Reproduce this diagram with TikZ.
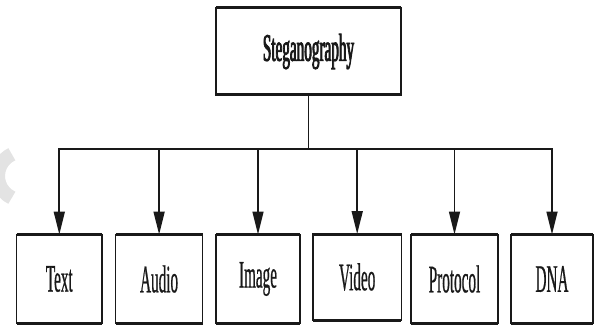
\documentclass[tikz,border=0pt]{standalone}
\usepackage{fontspec}
\setmainfont{Liberation Serif}
\newfontfamily\condfont[FakeStretch=0.39,FakeBold=0.5]{Liberation Serif}
\newfontfamily\condbold[FakeStretch=0.39,FakeBold=2]{Liberation Serif}
\usetikzlibrary{arrows.meta}
\definecolor{ink}{RGB}{25,25,25}
\tikzset{
  box/.style={draw=ink, line width=1.6pt, inner sep=0pt, outer sep=0pt,
    font=\condfont\fontsize{39}{40}\selectfont, text=ink},
  conn/.style={draw=ink, line width=1.7pt},
  arr/.style={conn, -{Triangle[length=23pt,width=11pt]}},
  edge/.style={draw=ink, line width=3pt}
}
\begin{document}
\begin{tikzpicture}[x=1pt,y=-1pt]
\useasboundingbox (0,0) rectangle (594,326);
% faint watermark
\draw[line width=14pt, color=gray!22] (22,176) ++(115:24) arc[start angle=115, end angle=245, radius=24];
% top box
\node[box, minimum width=185pt, minimum height=87pt, font=\condbold\fontsize{39}{40}\selectfont] (steg) at (308.5,51.5) {Steganography};
% bottom boxes
\node[box, minimum width=85.5pt, minimum height=89pt] (text) at (59.3,279) {Text};
\node[box, minimum width=87pt, minimum height=89pt] (audio) at (159.1,279) {Audio};
\node[box, minimum width=84pt, minimum height=89pt] (image) at (258,279) {Image};
\node[box, minimum width=88.5pt, minimum height=86pt] (video) at (357.2,277) {Video};
\node[box, minimum width=87pt, minimum height=89pt] (protocol) at (454.5,279) {Protocol};
\node[box, minimum width=82pt, minimum height=89pt] (dna) at (552,279) {DNA};
% thicker top and bottom edges
\foreach \n in {steg,text,audio,image,video,protocol,dna}{
  \draw[edge] (\n.north west) -- (\n.north east);
  \draw[edge] (\n.south west) -- (\n.south east);
}
% connectors
\coordinate (bus) at (0,149);
\draw[conn] (steg.south) -- (steg.south |- bus);
\draw[conn] ([xshift=-0.85pt]text.north |- bus) -- ([xshift=0.85pt]dna.north |- bus);
\foreach \n in {text,audio,image,video,protocol,dna}{
  \draw[arr] (\n.north |- bus) -- (\n.north);
}
\end{tikzpicture}
\end{document}
